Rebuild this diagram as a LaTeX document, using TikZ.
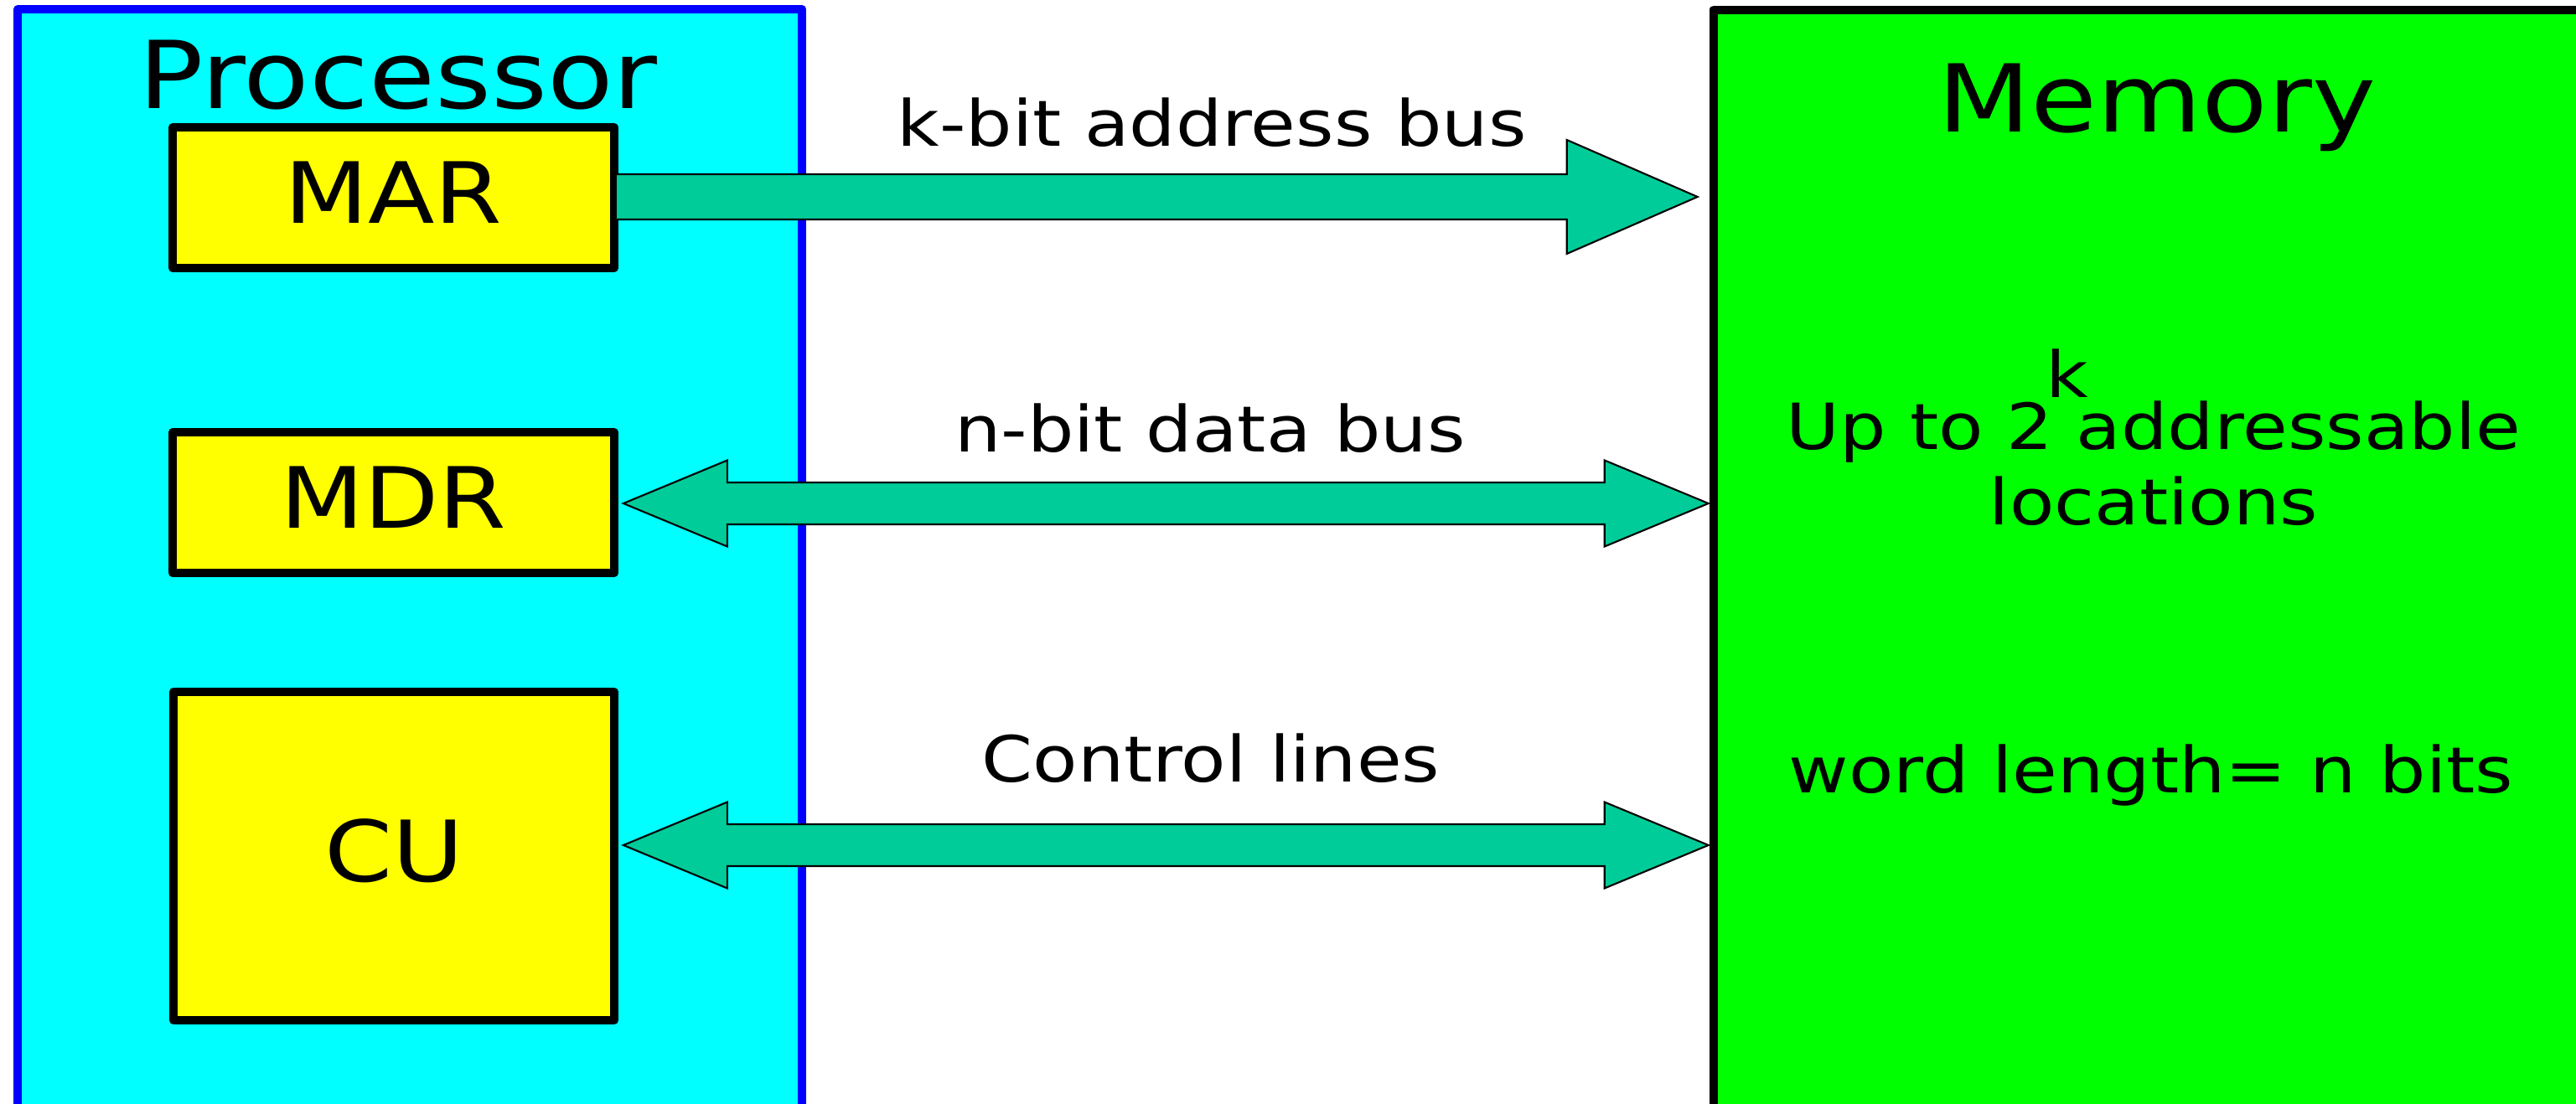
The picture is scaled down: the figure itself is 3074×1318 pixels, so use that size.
\documentclass[tikz,border=0pt]{standalone}
\usepackage{fontspec}
\setmainfont{DejaVu Sans}[FakeStretch=1.15]
\usetikzlibrary{calc}

\definecolor{procfill}{HTML}{00FFFF}
\definecolor{procline}{HTML}{0000FF}
\definecolor{regfill}{HTML}{FFFF00}
\definecolor{memfill}{HTML}{00FF00}
\definecolor{busfill}{HTML}{00CC99}

% one-way bus: tail centre, tip, shaft half-width, head half-width, head length
\newcommand{\onewaybus}[5]{%
  \draw[busarrow] ($(#1)+(0,-#3)$) -- ($(#2)+(-#5,-#3)$) -- ($(#2)+(-#5,-#4)$)
    -- (#2) -- ($(#2)+(-#5,#4)$) -- ($(#2)+(-#5,#3)$) -- ($(#1)+(0,#3)$) -- cycle;}
% two-way bus between two tips
\newcommand{\twowaybus}[5]{%
  \draw[busarrow] (#1) -- ($(#1)+(#5,-#4)$) -- ($(#1)+(#5,-#3)$) -- ($(#2)+(-#5,-#3)$)
    -- ($(#2)+(-#5,-#4)$) -- (#2) -- ($(#2)+(-#5,#4)$) -- ($(#2)+(-#5,#3)$)
    -- ($(#1)+(#5,#3)$) -- ($(#1)+(#5,#4)$) -- cycle;}

\begin{document}
\begin{tikzpicture}[x=0.01cm, y=-0.01cm,
  unitbox/.style={rectangle, inner sep=0pt, line width=0.1cm, line join=round},
  procbox/.style={unitbox, draw=procline, fill=procfill},
  membox/.style={unitbox, draw=black, fill=memfill},
  regbox/.style={unitbox, draw=black, fill=regfill, line width=0.095cm,
    text height=0.73cm, text depth=0.13cm,
    font=\fontsize{28.7pt}{34pt}\selectfont},
  busarrow/.style={fill=busfill, draw=black, line width=0.6pt, line join=miter},
  titletext/.style={inner sep=0pt, anchor=base, font=\fontsize{31.8pt}{38pt}\selectfont},
  plaintext/.style={inner sep=0pt, anchor=base, font=\fontsize{21.6pt}{26pt}\selectfont}]

\useasboundingbox (0,0) rectangle (3074,1318);
\clip (0,0) rectangle (3074,1318);
\fill[white] (0,0) rectangle (3074,1318);

% processor and memory units
\node[procbox, minimum width=9.355cm, minimum height=13.885cm] (proc) at (489.25,705.75) {};
\node[membox, minimum width=10.75cm, minimum height=13.88cm] (mem) at (2582.5,706) {};

% processor registers
\node[regbox, minimum width=5.27cm, minimum height=1.68cm] (mar) at (469.5,236) {MAR};
\node[regbox, minimum width=5.27cm, minimum height=1.68cm] (mdr) at (469.5,600) {MDR};
\node[regbox, minimum width=5.26cm, minimum height=3.92cm] (cu) at (470,1022) {CU};

% bus end points
\coordinate (addrtail) at ($(mar.east)+(-3,-1)$);
\coordinate (addrtip) at ($(mem.west |- addrtail)+(-14,0)$);
\coordinate (datatail) at ($(mdr.east)+(6,1)$);
\coordinate (datatip) at ($(mem.west |- datatail)+(-1,0)$);
\coordinate (ctrltail) at ($(cu.east)+(6,-13)$);
\coordinate (ctrltip) at ($(mem.west |- ctrltail)+(-1,0)$);

% buses
\onewaybus{addrtail}{addrtip}{27}{68}{156}
\twowaybus{datatail}{datatip}{25}{51.5}{124}
\twowaybus{ctrltail}{ctrltip}{25}{51.5}{124}

% titles
\node[titletext] (proctitle) at (475,129) {Processor};
\node[titletext] (memtitle) at (2574,157) {Memory};

% bus labels
\node[plaintext] (addrlabel) at (1446,174) {k-bit address bus};
\node[plaintext] (datalabel) at (1444,539) {n-bit data bus};
\node[plaintext] (ctrllabel) at (1445,933) {Control lines};

% memory description
\node[plaintext] (memsize) at (2570,536)
  {Up to 2\rlap{\hspace{-0.12em}\raisebox{0.61cm}{k}} addressable};
\node[plaintext] (memloc) at (2570,626) {locations};
\node[plaintext] (memword) at (2567,946) {word length= n bits};

\end{tikzpicture}
\end{document}
